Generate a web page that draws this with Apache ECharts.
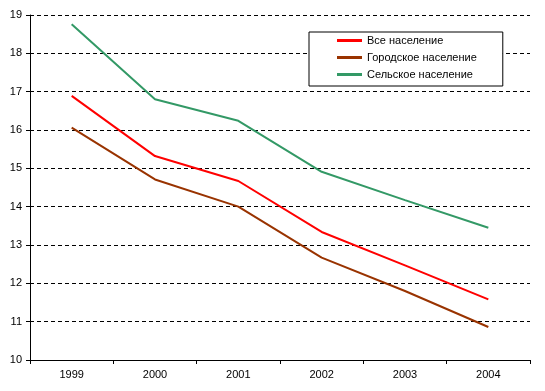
<!DOCTYPE html>
<html><head><meta charset="utf-8">
<script src="https://cdn.jsdelivr.net/npm/echarts@6/dist/echarts.min.js"></script>
<style>html,body{margin:0;padding:0;background:#fff}#c{width:545px;height:391px}</style>
</head><body><div id="c"></div>
<script>
const years = ['1999','2000','2001','2002','2003','2004'];
const allPop = [16.89, 15.32, 14.67, 13.34, 12.47, 11.58];
const urbanPop = [16.06, 14.71, 14.0, 12.67, 11.8, 10.86];
const ruralPop = [18.76, 16.80, 16.24, 14.91, 14.17, 13.45];
const seriesNames = ['Все население', 'Городское население', 'Сельское население'];
const colors = ['#FF0000', '#993300', '#339966'];
const font = 'Liberation Sans, Arial, sans-serif';

const chart = echarts.init(document.getElementById('c'), null, {renderer: 'canvas'});
const mk = (name, data, color) => ({
  name, type: 'line', data, symbol: 'none', animation: false,
  lineStyle: {color, width: 2}, itemStyle: {color}
});
chart.setOption({
  backgroundColor: '#fff',
  animation: false,
  grid: {left: 30, right: 15, top: 15, bottom: 31, containLabel: false},
  legend: {
    orient: 'vertical', left: 309, top: 32,
    data: seriesNames,
    itemWidth: 25, itemHeight: 3, itemGap: 6,
    icon: 'rect',
    padding: [3, 26, 6, 28],
    borderColor: '#000', borderWidth: 1, backgroundColor: '#fff',
    textStyle: {fontFamily: font, fontSize: 11, color: '#000'},
    selectedMode: false
  },
  xAxis: {
    type: 'category', data: years, boundaryGap: true,
    axisLine: {lineStyle: {color: '#000', width: 1}},
    axisTick: {show: true, length: 4, lineStyle: {color: '#000'}},
    axisLabel: {fontFamily: font, fontSize: 11, color: '#000', margin: 9},
    splitLine: {show: false}
  },
  yAxis: {
    type: 'value', min: 10, max: 19, interval: 1,
    axisLine: {show: true, lineStyle: {color: '#000', width: 1}},
    axisTick: {show: true, length: 4, lineStyle: {color: '#000'}},
    axisLabel: {fontFamily: font, fontSize: 11, color: '#000', margin: 8},
    splitLine: {show: true, lineStyle: {color: '#000', type: [4, 3], width: 1}}
  },
  series: [
    mk(seriesNames[0], allPop, colors[0]),
    mk(seriesNames[1], urbanPop, colors[1]),
    mk(seriesNames[2], ruralPop, colors[2])
  ]
});
</script></body></html>
